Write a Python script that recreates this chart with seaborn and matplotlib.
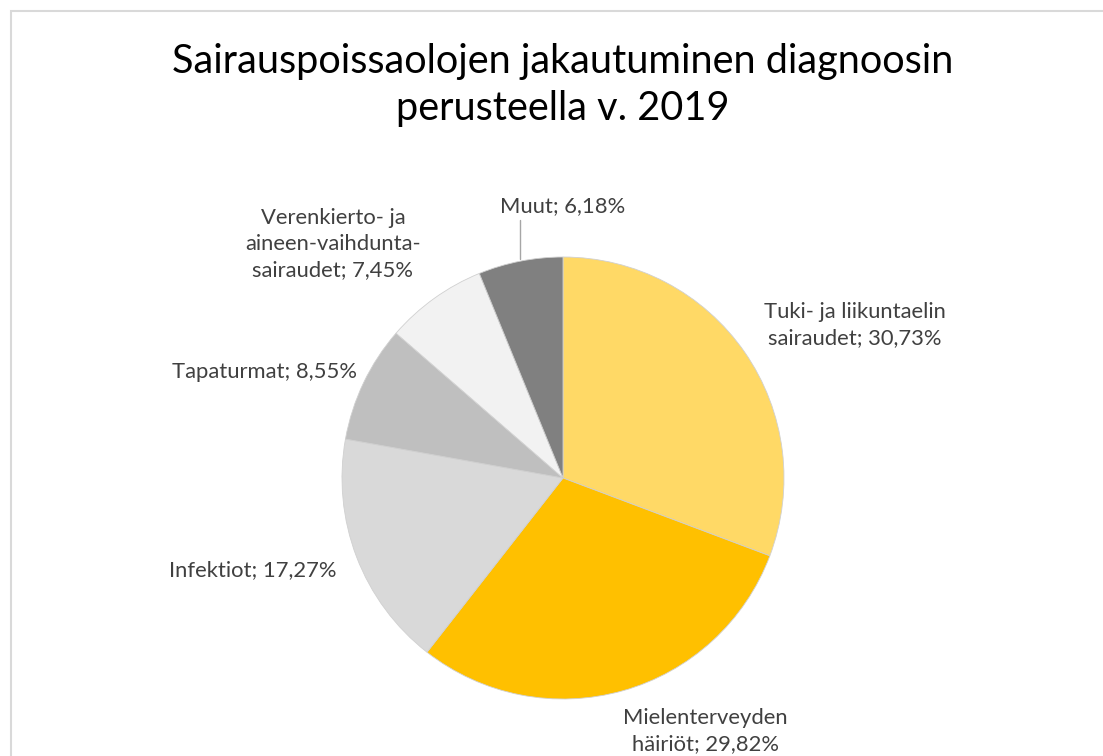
import matplotlib
matplotlib.use("Agg")
import matplotlib.pyplot as plt
import seaborn as sns
from matplotlib.patches import Rectangle

sns.set_theme(style="white")
plt.rcParams['font.family'] = ['Lato', 'DejaVu Sans']

categories = ["Tuki- ja liikuntaelin\nsairaudet", "Mielenterveyden\nhäiriöt", "Infektiot",
              "Tapaturmat", "Verenkierto- ja\naineen-vaihdunta-\nsairaudet", "Muut"]
values = [30.73, 29.82, 17.27, 8.55, 7.45, 6.18]
colors = ["#FFD966", "#FFC000", "#D9D9D9", "#BFBFBF", "#F2F2F2", "#808080"]
title = "Sairauspoissaolojen jakautuminen diagnoosin\nperusteella v. 2019"

W, H = 1103, 756
fig = plt.figure(figsize=(W / 100, H / 100), dpi=100)
ax = fig.add_axes([0, 0, 1, 1])

cx, cy, r = 563, H - 478, 221
ax.pie(values, colors=colors, startangle=90, counterclock=False,
       center=(cx, cy), radius=r, frame=True,
       wedgeprops=dict(linewidth=0.6, edgecolor="#d0d0d0"))
ax.set_xlim(0, W)
ax.set_ylim(0, H)
ax.set_aspect('equal')
ax.axis('off')

# chart border
ax.add_patch(Rectangle((10.5, -20), W + 40, H - 11 + 20, fill=False,
                       edgecolor="#d9d9d9", linewidth=1.5, zorder=0))

ax.text(563, H - 85, title, ha='center', va='center', fontsize=28.5,
        color="#000000", linespacing=1.35)

def fmt(v):
    return f"{v:.2f}".replace(".", ",") + "%"

label_pos = [(855, 325, 'center'), (705, 731, 'center'), (253, 570, 'center'),
             (265, 372, 'center'), (333, 244, 'center'), (563, 206, 'center')]
for cat, v, (x, y, ha) in zip(categories, values, label_pos):
    ax.text(x, H - y, f"{cat}; {fmt(v)}", ha=ha, va='center', fontsize=15.8,
            color="#404040", linespacing=1.4)

ax.plot([520, 520], [H - 220, H - 259], color="#a6a6a6", linewidth=1)

fig.savefig("out.png", dpi=100)
